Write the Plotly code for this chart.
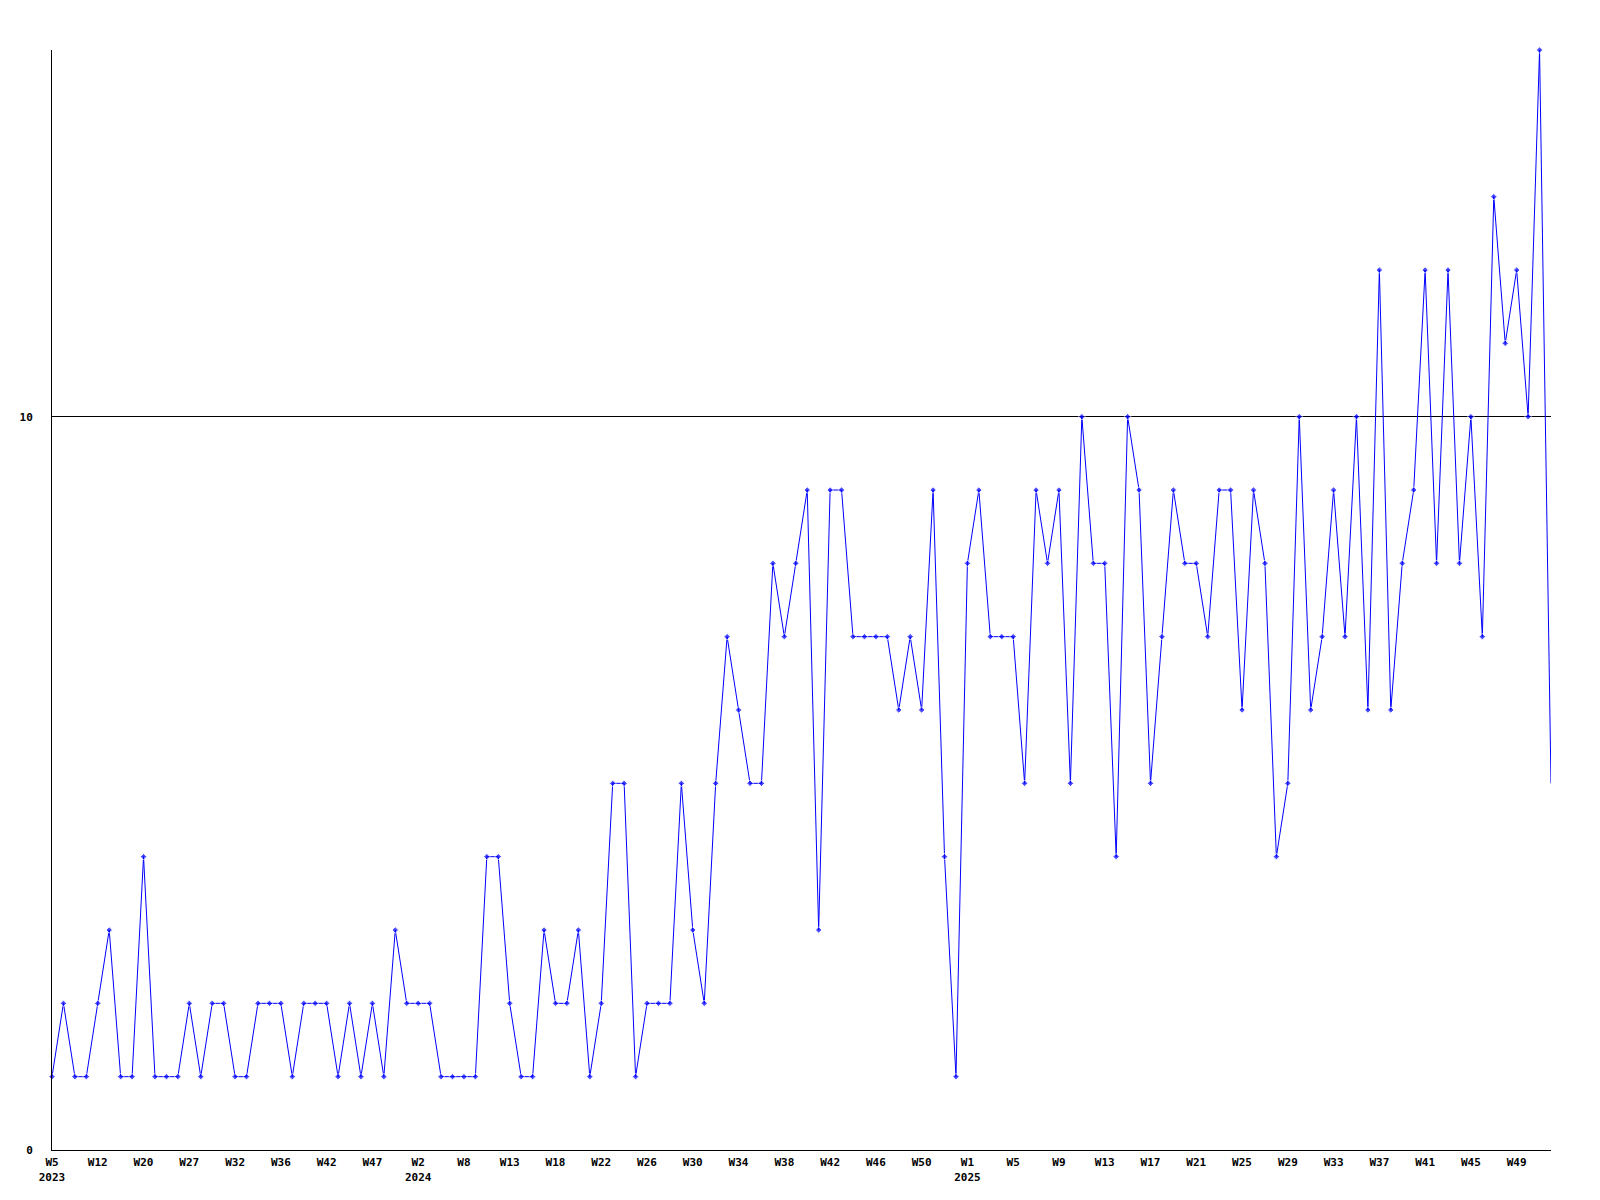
import plotly.graph_objects as go

# Weekly values (one per point, 132 points)
values = [1, 2, 1, 1, 2, 3, 1, 1, 4, 1, 1, 1, 2, 1, 2, 2, 1, 1, 2, 2,
          2, 1, 2, 2, 2, 1, 2, 1, 2, 1, 3, 2, 2, 2, 1, 1, 1, 1, 4, 4,
          2, 1, 1, 3, 2, 2, 3, 1, 2, 5, 5, 1, 2, 2, 2, 5, 3, 2, 5, 7,
          6, 5, 5, 8, 7, 8, 9, 3, 9, 9, 7, 7, 7, 7, 6, 7, 6, 9, 4, 1,
          8, 9, 7, 7, 7, 5, 9, 8, 9, 5, 10, 8, 8, 4, 10, 9, 5, 7, 9, 8,
          8, 7, 9, 9, 6, 9, 8, 4, 5, 10, 6, 7, 9, 7, 10, 6, 12, 6, 8, 9,
          12, 8, 12, 8, 10, 7, 13, 11, 12, 10, 15, 5]

# Tick labels shown every 4th point
week_labels = ["W5", "W12", "W20", "W27", "W32", "W36", "W42", "W47", "W2", "W8",
               "W13", "W18", "W22", "W26", "W30", "W34", "W38", "W42", "W46", "W50",
               "W1", "W5", "W9", "W13", "W17", "W21", "W25", "W29", "W33", "W37",
               "W41", "W45", "W49"]
year_marks = {0: "2023", 8: "2024", 20: "2025"}

y_ticks = [0, 10]

x = list(range(len(values)))
tickvals = [i * 4 for i in range(len(week_labels))]
ticktext = []
for k, lab in enumerate(week_labels):
    if k in year_marks:
        ticktext.append(f"{lab}<br>{year_marks[k]}")
    else:
        ticktext.append(lab)

sizes = [5] * (len(values) - 1) + [0]

fig = go.Figure()
fig.add_trace(go.Scatter(
    x=x, y=values, mode="lines+markers",
    line=dict(color="#0000ff", width=1),
    marker=dict(symbol="diamond", size=sizes, color="#0000ff"),
    hoverinfo="skip", cliponaxis=False,
))

font = dict(family="DejaVu Sans Mono", size=11, color="#000000", weight="bold")

fig.update_layout(
    width=1600, height=1200,
    margin=dict(l=42, r=57, t=42, b=58),
    paper_bgcolor="#ffffff", plot_bgcolor="#ffffff",
    showlegend=False,
    xaxis=dict(
        range=[0, len(values) - 1], tickmode="array",
        tickvals=tickvals, ticktext=ticktext,
        showgrid=False, zeroline=False,
        showline=True, linecolor="#000000", linewidth=1,
        ticks="", tickfont=font, ticklabelstandoff=2,
    ),
    yaxis=dict(
        range=[0, 15], tickmode="array", tickvals=y_ticks,
        ticktext=[str(v) for v in y_ticks],
        showgrid=True, gridcolor="#000000", gridwidth=1,
        zeroline=False,
        showline=True, linecolor="#000000", linewidth=1,
        ticks="", tickfont=font, ticklabelstandoff=16,
    ),
)

fig.write_html("out.html")
